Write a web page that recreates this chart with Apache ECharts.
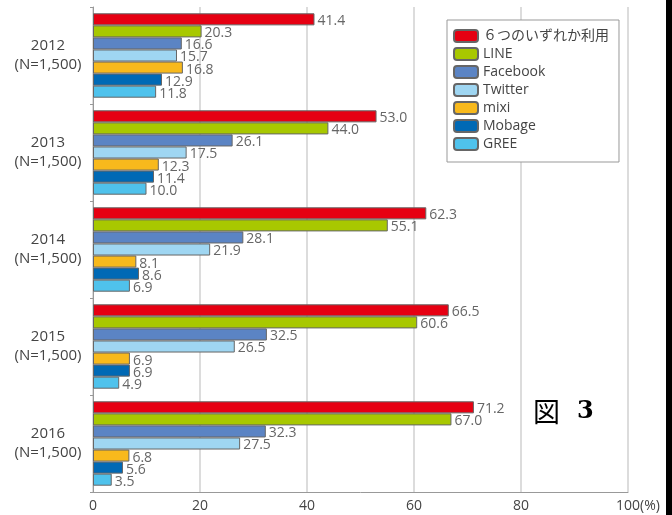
<!DOCTYPE html>
<html>
<head>
<meta charset="utf-8">
<script src="https://cdn.jsdelivr.net/npm/echarts@6/dist/echarts.min.js"></script>
<style>
html,body{margin:0;padding:0;background:#fff;}
#chart{width:672px;height:515px;}
</style>
</head>
<body>
<div id="chart"></div>
<script>
const categories = ['2012\n(N=1,500)', '2013\n(N=1,500)', '2014\n(N=1,500)', '2015\n(N=1,500)', '2016\n(N=1,500)'];
const seriesNames = ['６つのいずれか利用', 'LINE', 'Facebook', 'Twitter', 'mixi', 'Mobage', 'GREE'];
const anyUse   = [41.4, 53.0, 62.3, 66.5, 71.2];
const line     = [20.3, 44.0, 55.1, 60.6, 67.0];
const facebook = [16.6, 26.1, 28.1, 32.5, 32.3];
const twitter  = [15.7, 17.5, 21.9, 26.5, 27.5];
const mixi     = [16.8, 12.3, 8.1, 6.9, 6.8];
const mobage   = [12.9, 11.4, 8.6, 6.9, 5.6];
const gree     = [11.8, 10.0, 6.9, 4.9, 3.5];
const xTicks = [0, 20, 40, 60, 80, 100];

const seriesData = [anyUse, line, facebook, twitter, mixi, mobage, gree];
const colors = ['#e60012', '#a8c800', '#5b84c4', '#9fd6f2', '#f8b91c', '#0069b5', '#4fc2ec'];
const FONT = "'Open Sans','Noto Sans CJK JP',sans-serif";

const chart = echarts.init(document.getElementById('chart'), null, {renderer: 'canvas'});
chart.setOption({
  backgroundColor: '#fff',
  animation: false,
  textStyle: {fontFamily: FONT},
  grid: {left: 93, right: 44, top: 7, bottom: 23, containLabel: false},
  legend: {
    orient: 'vertical',
    left: 447, top: 20,
    padding: [9, 10, 11, 6],
    itemWidth: 24, itemHeight: 12, itemGap: 4,
    borderColor: '#999', borderWidth: 1,
    backgroundColor: '#fff',
    textStyle: {fontSize: 14, color: '#444', fontFamily: FONT},
    data: seriesNames
  },
  xAxis: {
    type: 'value', min: 0, max: 100, interval: 20,
    axisLine: {show: true, lineStyle: {color: '#999', width: 1}},
    axisTick: {show: false},
    splitLine: {show: true, lineStyle: {color: '#d0d0d0', width: 1.5}},
    axisLabel: {
      fontSize: 14, color: '#444', margin: 7, fontFamily: FONT,
      formatter: function (v) { return v === xTicks[xTicks.length - 1] ? '{p|' + v + '(%)}' : String(v); },
      rich: {p: {fontSize: 14, color: '#444', padding: [0, 0, 0, 20], fontFamily: FONT}}
    }
  },
  yAxis: {
    type: 'category', inverse: true, data: categories,
    axisLine: {show: true, lineStyle: {color: '#999', width: 1}},
    axisTick: {show: true, length: 3, lineStyle: {color: '#999'}},
    axisLabel: {fontSize: 15, color: '#444', align: 'center', margin: 45, lineHeight: 19, fontFamily: FONT}
  },
  series: seriesNames.map((name, i) => ({
    name: name,
    type: 'bar',
    data: seriesData[i],
    barGap: '0%',
    barCategoryGap: '13%',
    itemStyle: {color: colors[i], borderColor: '#666', borderWidth: 1},
    label: {
      show: true, position: 'right', distance: 3, offset: [0, 2],
      fontSize: 14, color: '#666', fontFamily: FONT,
      formatter: p => p.value.toFixed(1)
    }
  })),
  graphic: [
    {type: 'rect', left: 666, top: 0, shape: {width: 6, height: 515}, style: {fill: '#000'}},
    {type: 'text', left: 533, top: 398,
     style: {text: '{a|図}{b|3}', rich: {
       a: {fontSize: 27, fontFamily: "'Noto Sans CJK JP'", fill: '#000', fontWeight: 'normal'},
       b: {fontSize: 24, fontFamily: "'DejaVu Serif','Liberation Serif',serif", fill: '#000', fontWeight: 'bold', padding: [0, 0, 0, 17]}
     }}}
  ]
});
</script>
</body>
</html>
